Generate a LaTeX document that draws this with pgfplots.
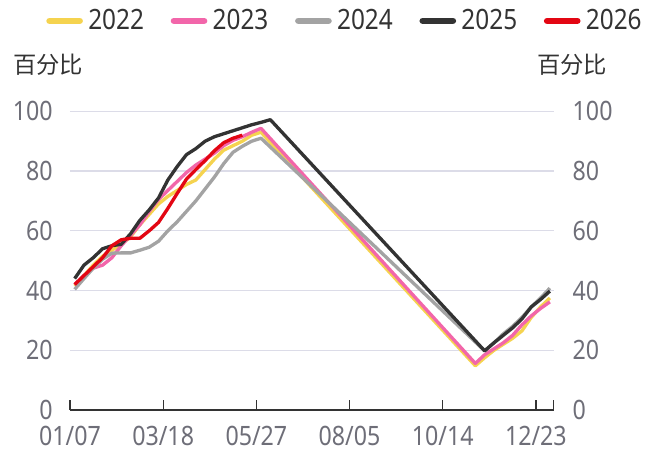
\documentclass[border=0pt]{standalone}
\usepackage{fontspec}
\setmainfont{Noto Sans}[FakeStretch=0.87]
\newfontfamily\cjk{Noto Sans CJK SC}
\usepackage{pgfplots}
\pgfplotsset{compat=1.18}
\definecolor{c22}{HTML}{F5D34F}
\definecolor{c23}{HTML}{F266AA}
\definecolor{c24}{HTML}{A3A3A3}
\definecolor{c25}{HTML}{333333}
\definecolor{c26}{HTML}{E30613}
\definecolor{gridc}{HTML}{DCDCE8}
\definecolor{tickc}{HTML}{6E6E78}
\begin{document}
\begin{tikzpicture}
\useasboundingbox (-52.5pt,-32.25pt) rectangle (438pt,307.5pt);
\begin{axis}[
  scale only axis, width=362.7pt, height=224pt,
  xmin=-0.5, xmax=51.4, ymin=0, ymax=100,
  axis x line=bottom, axis y line=left, axis line style={-},
  y axis line style={draw=none},
  x axis line style={c25, line width=0.9pt},
  xtick={-0.5,9.5,19.5,29.5,39.5,49.5},
  xticklabels={01/07,03/18,05/27,08/05,10/14,12/23},
  extra x ticks={51.4}, extra x tick labels={},
  extra x tick style={grid=none},
  tick align=inside,
  major tick length=7.5pt,
  xtick style={c25, line width=0.9pt},
  ytick={0,20,40,60,80,100},
  ytick style={draw=none},
  ymajorgrids, grid style={gridc, line width=1pt},
  /pgf/number format/assume math mode=true,
  tick label style={tickc, font=\fontsize{20}{20}\selectfont},
  yticklabel style={inner sep=0pt, xshift=-12.75pt},
  xticklabel style={inner sep=0pt, yshift=-12pt},
  clip=false,
  legend style={draw=none, fill=none, at={(0.572,1.303)}, anchor=center,
    legend columns=5, font=\fontsize{21}{21}\selectfont, text=c25,
    /tikz/every even column/.append style={column sep=16pt},
    nodes={inner sep=4pt}},
  legend image code/.code={\draw[line width=5pt, line cap=round, #1] (2.5pt,0pt) -- (25pt,0pt);},
  every axis plot/.append style={line width=2.5pt, line join=round},
]
\addplot[c22] coordinates {(0,41.5)(1,45)(2,48.5)(3,51.5)(4,53.5)(5,55.5)(6,58)(7,62)(8,65.5)(9,69)(10,71.5)(11,73.5)(12,75.5)(13,77)(14,80.5)(15,84)(16,87)(17,88.5)(18,90)(19,92)(20,93)(43,14.8)(44,17.5)(45,20)(46,22)(47,24)(48,26.5)(49,31)(50,34.5)(51,37.5)};
\addlegendentry{2022}
\addplot[c23] coordinates {(0,42)(1,45)(2,47.5)(3,48.5)(4,51)(5,55)(6,58.5)(7,62)(8,66.5)(9,70.5)(10,73.5)(11,76.5)(12,79.5)(13,82)(14,84)(15,86)(16,88.5)(17,90.3)(18,91.5)(19,93)(20,94.3)(43,15.6)(44,18.5)(45,20.5)(46,22.5)(47,25)(48,28.5)(49,31.5)(50,34)(51,36.2)};
\addlegendentry{2023}
\addplot[c24] coordinates {(0,40.4)(1,44)(2,47.5)(3,50.5)(4,52.5)(5,52.6)(6,52.6)(7,53.5)(8,54.5)(9,56.5)(10,60)(11,63)(12,66.5)(13,70)(14,74)(15,78)(16,82.5)(17,86.3)(18,88.3)(19,90)(20,91)(44,19.8)(45,22.5)(46,25.5)(47,28)(48,31)(49,34.5)(50,37.5)(51,40.8)};
\addlegendentry{2024}
\addplot[c25] coordinates {(0,44)(1,48.5)(2,51)(3,54)(4,55)(5,55.5)(6,59)(7,63.5)(8,67)(9,71)(10,77)(11,81.5)(12,85.5)(13,87.5)(14,90)(15,91.5)(16,92.5)(17,93.5)(18,94.5)(19,95.5)(20,96.3)(21,97.2)(44,19.8)(45,22.5)(46,25)(47,27.5)(48,30.5)(49,34.5)(50,37)(51,39.8)};
\addlegendentry{2025}
\addplot[c26] coordinates {(0,42)(1,45)(2,48)(3,51)(4,55)(5,57)(6,57.5)(7,57.5)(8,60)(9,62.8)(10,67.5)(11,72.5)(12,77.3)(13,80.5)(14,83.5)(15,86.8)(16,89.5)(17,91)(18,92)};
\addlegendentry{2026}
\node[anchor=west, text=c25, font=\cjk\fontsize{17.5}{17.5}\selectfont, inner sep=0pt] at ([xshift=-42.75pt, yshift=34.9pt]rel axis cs:0,1) {百分比};
\end{axis}
\begin{axis}[
  scale only axis, width=362.7pt, height=224pt,
  xmin=-0.5, xmax=51.4, ymin=0, ymax=100,
  axis x line=none, axis y line=right, axis line style={-},
  y axis line style={draw=none},
  ytick={0,20,40,60,80,100},
  ytick style={draw=none},
  /pgf/number format/assume math mode=true,
  tick label style={tickc, font=\fontsize{20}{20}\selectfont},
  yticklabel style={inner sep=0pt, xshift=12pt},
  clip=false,
]
\node[anchor=east, text=c25, font=\cjk\fontsize{17.5}{17.5}\selectfont, inner sep=0pt] at ([xshift=40.3pt, yshift=34.9pt]rel axis cs:1,1) {百分比};
\end{axis}
\end{tikzpicture}
\end{document}
